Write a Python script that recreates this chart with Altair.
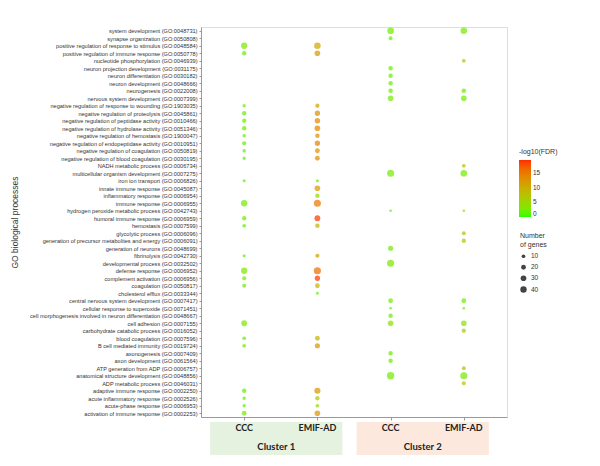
import altair as alt
import pandas as pd

terms = [
    "system development (GO:0048731)",
    "synapse organization (GO:0050808)",
    "positive regulation of response to stimulus (GO:0048584)",
    "positive regulation of immune response (GO:0050778)",
    "nucleotide phosphorylation (GO:0046939)",
    "neuron projection development (GO:0031175)",
    "neuron differentiation (GO:0030182)",
    "neuron development (GO:0048666)",
    "neurogenesis (GO:0022008)",
    "nervous system development (GO:0007399)",
    "negative regulation of response to wounding (GO:1903035)",
    "negative regulation of proteolysis (GO:0045861)",
    "negative regulation of peptidase activity (GO:0010466)",
    "negative regulation of hydrolase activity (GO:0051346)",
    "negative regulation of hemostasis (GO:1900047)",
    "negative regulation of endopeptidase activity (GO:0010951)",
    "negative regulation of coagulation (GO:0050819)",
    "negative regulation of blood coagulation (GO:0030195)",
    "NADH metabolic process (GO:0006734)",
    "multicellular organism development (GO:0007275)",
    "iron ion transport (GO:0006826)",
    "innate immune response (GO:0045087)",
    "inflammatory response (GO:0006954)",
    "immune response (GO:0006955)",
    "hydrogen peroxide metabolic process (GO:0042743)",
    "humoral immune response (GO:0006959)",
    "hemostasis (GO:0007599)",
    "glycolytic process (GO:0006096)",
    "generation of precursor metabolites and energy (GO:0006091)",
    "generation of neurons (GO:0048699)",
    "fibrinolysis (GO:0042730)",
    "developmental process (GO:0032502)",
    "defense response (GO:0006952)",
    "complement activation (GO:0006956)",
    "coagulation (GO:0050817)",
    "cholesterol efflux (GO:0033344)",
    "central nervous system development (GO:0007417)",
    "cellular response to superoxide (GO:0071451)",
    "cell morphogenesis involved in neuron differentiation (GO:0048667)",
    "cell adhesion (GO:0007155)",
    "carbohydrate catabolic process (GO:0016052)",
    "blood coagulation (GO:0007596)",
    "B cell mediated immunity (GO:0019724)",
    "axonogenesis (GO:0007409)",
    "axon development (GO:0061564)",
    "ATP generation from ADP (GO:0006757)",
    "anatomical structure development (GO:0048856)",
    "ADP metabolic process (GO:0046031)",
    "adaptive immune response (GO:0002250)",
    "acute inflammatory response (GO:0002526)",
    "acute-phase response (GO:0006953)",
    "activation of immune response (GO:0002253)",
]

columns = ["C1_CCC", "C1_EMIF", "C2_CCC", "C2_EMIF"]
column_labels = ["CCC", "EMIF-AD", "CCC", "EMIF-AD"]
clusters = ["Cluster 1", "Cluster 2"]
cluster_fills = ["#e6f2e0", "#fce8dc"]

# Cluster 1 - CCC
c1_ccc_rows = [2, 3, 10, 11, 12, 13, 14, 15, 16, 17, 20, 23, 25, 26, 30, 32, 33, 34, 39, 41, 42, 48, 49, 50, 51]
c1_ccc_genes = [38, 16, 7, 16, 15, 16, 7, 14, 8, 7, 5, 40, 15, 10, 5, 38, 14, 12, 32, 10, 10, 16, 9, 7, 20]
c1_ccc_fdr = [2.5, 2, 2, 2, 2, 2, 1.5, 2, 1.5, 1.5, 1.5, 2.5, 2, 1.5, 1.5, 3, 2.5, 2, 3, 2, 2, 2, 2, 1.5, 2.5]

# Cluster 1 - EMIF-AD
c1_emif_rows = [2, 3, 10, 11, 12, 13, 14, 15, 16, 17, 20, 21, 22, 23, 25, 26, 30, 32, 33, 34, 35, 41, 42, 48, 49, 50, 51]
c1_emif_genes = [42, 30, 15, 26, 27, 30, 17, 26, 21, 21, 5, 30, 16, 50, 32, 17, 14, 52, 26, 20, 5, 20, 24, 36, 16, 10, 30]
c1_emif_fdr = [10.5, 12, 11, 13, 13.5, 14, 13, 14, 13, 13, 2, 12, 5, 15, 19, 9, 11, 16, 19, 9, 2, 9, 12.5, 12.5, 7, 5, 12.5]

# Cluster 2 - CCC
c2_ccc_rows = [0, 1, 5, 6, 7, 8, 9, 19, 24, 29, 31, 36, 37, 38, 39, 43, 44, 46]
c2_ccc_genes = [44, 12, 16, 16, 16, 17, 30, 50, 2, 24, 52, 20, 2, 17, 30, 16, 16, 55]
c2_ccc_fdr = [2.5, 2, 2, 2, 2, 2, 2.5, 2.5, 1.5, 2.5, 3, 2.5, 1.5, 2.5, 4, 2, 2, 2.5]

# Cluster 2 - EMIF-AD
c2_emif_rows = [0, 4, 8, 9, 18, 19, 24, 27, 28, 36, 37, 39, 40, 45, 46, 47]
c2_emif_genes = [42, 10, 18, 30, 10, 44, 2, 12, 16, 20, 2, 30, 15, 12, 50, 12]
c2_emif_fdr = [2.5, 8, 2, 2.5, 8, 2.5, 4, 8, 6, 2.5, 2, 3.5, 6, 8, 2.5, 8]

groups = [
    (c1_ccc_rows, c1_ccc_genes, c1_ccc_fdr),
    (c1_emif_rows, c1_emif_genes, c1_emif_fdr),
    (c2_ccc_rows, c2_ccc_genes, c2_ccc_fdr),
    (c2_emif_rows, c2_emif_genes, c2_emif_fdr),
]

records = []
for col, (rows, genes, fdr) in zip(columns, groups):
    for r, g, f in zip(rows, genes, fdr):
        records.append({"col": col, "term": terms[r], "genes": g, "fdr": f})
df = pd.DataFrame(records)

W, H = 306, 390
PAD = 0.59
STEP = W / (3 + 2 * PAD)

xscale = alt.Scale(type="point", domain=columns, padding=PAD)

points = alt.Chart(df).mark_circle(fillOpacity=0.72).encode(
    x=alt.X("col:N", scale=xscale,
            axis=alt.Axis(labels=False, title=None, ticks=True, tickSize=3,
                          domainColor="#9a9a9a", tickColor="#9a9a9a")),
    y=alt.Y("term:N", sort=terms, scale=alt.Scale(domain=terms, padding=0.5),
            axis=alt.Axis(title="GO biological processes", titleFontSize=8.5,
                          titleFontWeight="normal", titleColor="#333333",
                          titleFont="Liberation Sans", titleX=-182,
                          labelFont="Liberation Sans", labelFontSize=5.6,
                          labelColor="#333333", labelPadding=2, tickSize=2,
                          domainColor="#9a9a9a", tickColor="#9a9a9a")),
    color=alt.Color("fdr:Q",
                    scale=alt.Scale(domain=[0, 19.5], range=["#22ff00", "#ff2a00"],
                                    interpolate="lab"),
                    legend=alt.Legend(title="-log10(FDR)", orient="none",
                                      legendX=318, legendY=121,
                                      gradientLength=57, gradientThickness=12,
                                      values=[0, 5, 10, 15],
                                      titleFontSize=7, titleFontWeight="normal",
                                      titleFont="Liberation Sans",
                                      labelFont="Liberation Sans", labelFontSize=6.5,
                                      titleColor="#333333", labelColor="#333333",
                                      gradientStrokeWidth=0)),
    size=alt.Size("genes:Q", scale=alt.Scale(domain=[0, 50], range=[5, 50]),
                  legend=alt.Legend(title=["Number", "of genes"], orient="none",
                                    legendX=319, legendY=205,
                                    values=[10, 20, 30, 40],
                                    titleFontSize=7, titleFontWeight="normal",
                                    titleFont="Liberation Sans",
                                    labelFont="Liberation Sans", labelFontSize=6.5,
                                    titleColor="#333333", labelColor="#333333",
                                    symbolFillColor="#444444", symbolStrokeWidth=0,
                                    symbolOpacity=1, rowPadding=4)),
)

layers = []
starts = ["C1_CCC", "C2_CCC"]
ends = ["C1_EMIF", "C2_EMIF"]
for s, e, cl, fill in zip(starts, ends, clusters, cluster_fills):
    bdf = pd.DataFrame({"start": [s], "end": [e], "cluster": [cl]})
    box = alt.Chart(bdf).mark_rect(fill=fill, xOffset=-34, x2Offset=25).encode(
        x=alt.X("start:N", scale=xscale),
        x2="end:N",
        y=alt.value(H + 5),
        y2=alt.value(H + 38),
    )
    ctext = alt.Chart(bdf).mark_text(font="Lato", fontWeight="bold", fontSize=9.5,
                                     color="#222222", dx=STEP / 2 - 4.5).encode(
        x=alt.X("start:N", scale=xscale),
        y=alt.value(H + 30),
        text="cluster:N",
    )
    layers += [box, ctext]

ldf = pd.DataFrame({"col": columns, "label": column_labels})
col_text = alt.Chart(ldf).mark_text(font="Lato", fontWeight="bold", fontSize=9,
                                    color="#222222").encode(
    x=alt.X("col:N", scale=xscale),
    y=alt.value(H + 11),
    text="label:N",
)

chart = alt.layer(*layers, col_text, points).properties(
    width=W, height=H,
    padding={"left": 2, "top": 19, "right": 5, "bottom": 5},
).configure_view(stroke=None).configure(background="white")

chart.save("out.html", embed_options={"renderer": "svg", "actions": False})
